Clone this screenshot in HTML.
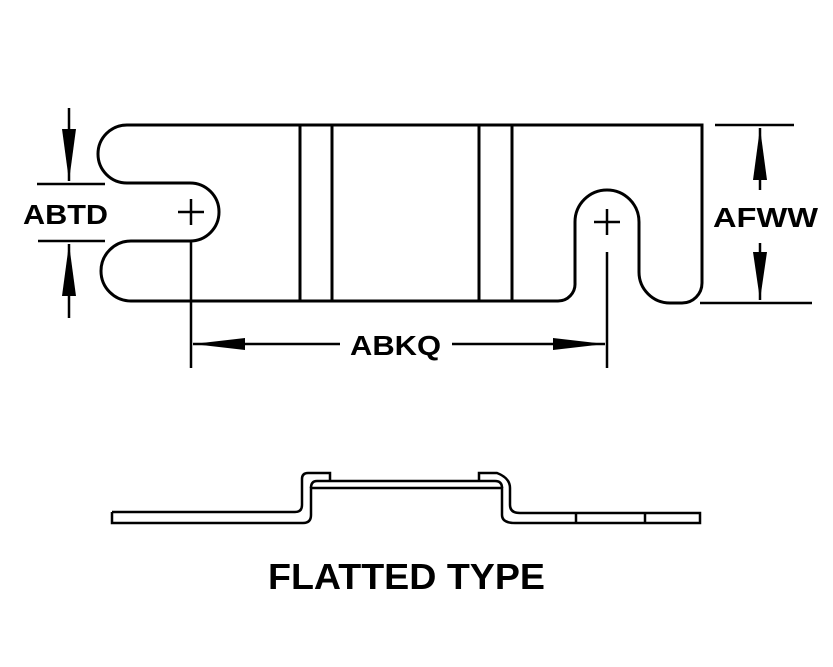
<!DOCTYPE html>
<html><head><meta charset="utf-8"><style>
html,body{margin:0;padding:0;background:#fff;}
svg{display:block;}
text{font-family:"Liberation Sans",Arial,sans-serif;font-weight:bold;fill:#000;}
</style></head><body>
<svg width="833" height="667" viewBox="0 0 833 667" xmlns="http://www.w3.org/2000/svg">
<g fill="none" stroke="#000" stroke-width="3">
<path d="M127 125 H702 V283 A20 20 0 0 1 682 303 H670 A31 31 0 0 1 639 272 V222 A32 32 0 0 0 575 222 V283 A17 17 0 0 1 558 301 H131 A30 30 0 0 1 131 241 H190 A29 29 0 0 0 190 183 H127 A29 29 0 0 1 127 125 Z"/>
<line x1="300" y1="125" x2="300" y2="301"/>
<line x1="332" y1="125" x2="332" y2="301"/>
<line x1="479" y1="125" x2="479" y2="301"/>
<line x1="512" y1="125" x2="512" y2="301"/>
</g>
<g stroke="#000" stroke-width="2.5" fill="none">
<line x1="178" y1="212" x2="204" y2="212"/><line x1="191" y1="199" x2="191" y2="225"/>
<line x1="594" y1="222" x2="620" y2="222"/><line x1="607" y1="209" x2="607" y2="235"/>
<line x1="37" y1="184" x2="105" y2="184"/><line x1="38" y1="241" x2="105" y2="241"/>
<line x1="69" y1="108" x2="69" y2="181"/><line x1="69" y1="244" x2="69" y2="318"/>
<line x1="715" y1="125" x2="794" y2="125"/><line x1="700" y1="303" x2="812" y2="303"/>
<line x1="760" y1="128" x2="760" y2="190"/><line x1="760" y1="243" x2="760" y2="300"/>
<line x1="191" y1="240" x2="191" y2="368"/><line x1="607" y1="252" x2="607" y2="368"/>
<line x1="193" y1="344" x2="340" y2="344"/><line x1="452" y1="344" x2="605" y2="344"/>
</g>
<g fill="#000">
<polygon points="62,129 76,129 69,181"/>
<polygon points="62,296 76,296 69,244"/>
<polygon points="753,180 767,180 760,128"/>
<polygon points="753,252 767,252 760,300"/>
<polygon points="245,338 245,350 193,344"/>
<polygon points="553,338 553,350 605,344"/>
</g>
<text x="23" y="224" font-size="28" textLength="85" lengthAdjust="spacingAndGlyphs">ABTD</text>
<text x="713" y="227" font-size="28" textLength="105" lengthAdjust="spacingAndGlyphs">AFWW</text>
<text x="350" y="355" font-size="28" textLength="91" lengthAdjust="spacingAndGlyphs">ABKQ</text>
<g fill="none" stroke="#000" stroke-width="2.5">
<path d="M112 512 H295 Q302 512 302 505 V479 Q302 473 308 473 H330 V481"/>
<path d="M112 512 V523 H303 Q311 523 311 515 V488 H502 V515 Q502 523 515 523 H700 V513 H520 Q510 513 510 505 V488 Q510 478 497 473 H479 V481"/>
<path d="M311 488 Q311 481 317 481 H495 Q502 481 502 488"/>
<line x1="576" y1="513" x2="576" y2="523"/>
<line x1="645" y1="513" x2="645" y2="523"/>
</g>
<text x="268" y="589" font-size="36" textLength="277" lengthAdjust="spacingAndGlyphs">FLATTED TYPE</text>
</svg>
</body></html>
